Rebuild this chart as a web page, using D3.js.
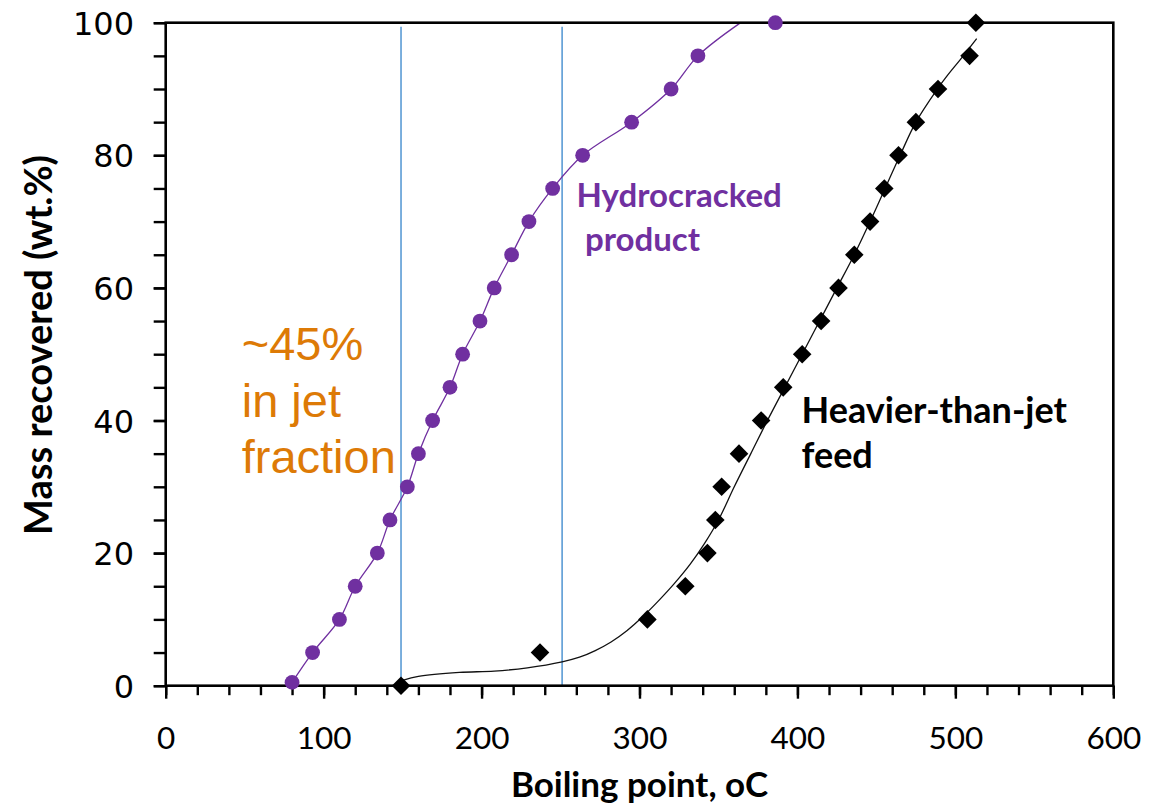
<!DOCTYPE html>
<html>
<head>
<meta charset="utf-8">
<script src="https://cdn.jsdelivr.net/npm/d3@7"></script>
<style>
  html, body { margin: 0; padding: 0; background: #ffffff; }
  svg { display: block; }
</style>
</head>
<body>
<svg id="chart" width="1151" height="812"></svg>
<script>
// Simulated-distillation curves: hydrocracked product vs. heavier-than-jet feed

// Axis ticks
const xTickValues = [0, 100, 200, 300, 400, 500, 600];
const xMinorTicks = d3.range(0, 601, 20);
const yTickValues = [0, 20, 40, 60, 80, 100];
const yMinorTicks = d3.range(0, 101, 5);

// Hydrocracked product: measured points (boiling point, °C / mass recovered, wt.%)
const productBoil = [80, 93, 110, 120, 134, 142, 153, 160, 169, 180, 188, 199, 208, 219, 230, 245, 264, 295, 320, 337, 386];
const productMass = [0.5, 5, 10, 15, 20, 25, 30, 35, 40, 45, 50, 55, 60, 65, 70, 75, 80, 85, 90, 95, 100];

// Hydrocracked product: smooth curve
const productCurveBoil = [80, 93, 110, 120, 134, 142, 153, 160, 169, 180, 188, 199, 208, 219, 230, 245, 264, 295, 320, 337, 364, 376];
const productCurveMass = [0.5, 5, 10, 15, 20, 25, 30, 35, 40, 45, 50, 55, 60, 65, 70, 75, 80, 85, 90, 95, 100, 101.8];

// Heavier-than-jet feed: measured points
const feedBoil = [149, 237, 305, 329, 343, 348, 352, 363, 377, 391, 403, 415, 426, 436, 446, 455, 464, 475, 489, 509, 513];
const feedMass = [0, 5, 10, 15, 20, 25, 30, 35, 40, 45, 50, 55, 60, 65, 70, 75, 80, 85, 90, 95, 100];

// Heavier-than-jet feed: smooth curve
const feedCurveBoil = [150, 160, 186, 208, 229, 251, 262, 272, 282, 292, 302, 312, 322, 332, 341, 350, 360, 370.5, 381, 392, 403, 414, 425, 436, 446, 455.5, 465, 475, 488.6, 494.5, 503, 508, 513.5];
const feedCurveMass = [0.8, 1.4, 2.0, 2.2, 2.7, 3.6, 4.3, 5.3, 6.6, 8.3, 10.4, 12.8, 15.4, 18.3, 21.4, 25, 30, 35, 40, 45, 50, 55, 60, 65, 70, 75, 80, 85, 90, 91.9, 94.4, 95.9, 97.6];

// Jet-fraction cut points (°C)
const jetCuts = [149, 251];

const svg = d3.select("#chart");
const plot = { left: 165.7, right: 1113.3, top: 22.7, bottom: 685.7 };

const x = d3.scaleLinear().domain([0, 600]).range([plot.left, plot.right]);
const y = d3.scaleLinear().domain([0, 100]).range([plot.bottom, plot.top]);

const purple = "#7030A0";
const orange = "#DD7A06";
const blue = "#5B9BD5";

svg.append("rect").attr("width", 1151).attr("height", 812).attr("fill", "#ffffff");

svg.append("defs").append("clipPath").attr("id", "plot-clip")
  .append("rect")
  .attr("x", plot.left).attr("y", plot.top)
  .attr("width", plot.right - plot.left).attr("height", plot.bottom - plot.top);

// Jet fraction boundaries
svg.append("g").selectAll("line").data(jetCuts).join("line")
  .attr("x1", d => x(d)).attr("x2", d => x(d))
  .attr("y1", y(100) + 4).attr("y2", y(0))
  .attr("stroke", blue).attr("stroke-width", 1.6);

// Smooth curves
const line = d3.line().x(d => x(d[0])).y(d => y(d[1])).curve(d3.curveCatmullRom.alpha(0.5));
const productCurve = d3.zip(productCurveBoil, productCurveMass);
const feedCurve = d3.zip(feedCurveBoil, feedCurveMass);

const curves = svg.append("g").attr("clip-path", "url(#plot-clip)");
curves.append("path").datum(productCurve)
  .attr("d", line).attr("fill", "none").attr("stroke", purple).attr("stroke-width", 1.3);
curves.append("path").datum(feedCurve)
  .attr("d", line).attr("fill", "none").attr("stroke", "#111111").attr("stroke-width", 1.3);

// Axes: minor and major ticks
const tickStroke = 2.4;
const xMinorAxis = d3.axisBottom(x).tickValues(xMinorTicks).tickSize(9.5).tickFormat("").tickSizeOuter(0);
const xMajorAxis = d3.axisBottom(x).tickValues(xTickValues).tickSize(13).tickSizeOuter(0).tickFormat(d3.format("d"));
const yMinorAxis = d3.axisLeft(y).tickValues(yMinorTicks).tickSize(12).tickFormat("").tickSizeOuter(0);
const yMajorAxis = d3.axisLeft(y).tickValues(yTickValues).tickSize(12).tickSizeOuter(0).tickFormat(d3.format("d"));

function styleAxis(g) {
  g.select(".domain").remove();
  g.selectAll(".tick line").attr("stroke", "#000").attr("stroke-width", tickStroke);
}

svg.append("g").attr("transform", `translate(0,${plot.bottom})`).call(xMinorAxis).call(styleAxis);
const gx = svg.append("g").attr("transform", `translate(0,${plot.bottom})`).call(xMajorAxis).call(styleAxis);
gx.selectAll(".tick text")
  .attr("y", 749 - plot.bottom).attr("dy", null)
  .attr("fill", "#000")
  .style("font-family", "Lato, 'Open Sans', sans-serif")
  .style("font-size", "31.5px");

svg.append("g").attr("transform", `translate(${plot.left},0)`).call(yMinorAxis).call(styleAxis);
const gy = svg.append("g").attr("transform", `translate(${plot.left},0)`).call(yMajorAxis).call(styleAxis);
gy.selectAll(".tick text")
  .attr("x", 134 - plot.left).attr("dy", "0.36em")
  .attr("fill", "#000")
  .style("font-family", "'DejaVu Sans', Verdana, sans-serif")
  .style("font-size", "32px");

// Plot frame
svg.append("rect")
  .attr("x", plot.left).attr("y", plot.top)
  .attr("width", plot.right - plot.left).attr("height", plot.bottom - plot.top)
  .attr("fill", "none").attr("stroke", "#000").attr("stroke-width", 2.6);

// Markers
svg.append("g").selectAll("circle").data(d3.zip(productBoil, productMass)).join("circle")
  .attr("cx", d => x(d[0])).attr("cy", d => y(d[1])).attr("r", 7.4)
  .attr("fill", purple);

const diamond = {
  draw(ctx, size) {
    const r = Math.sqrt(size) / 2;
    ctx.moveTo(0, -r); ctx.lineTo(r, 0); ctx.lineTo(0, r); ctx.lineTo(-r, 0); ctx.closePath();
  }
};
svg.append("g").selectAll("path").data(d3.zip(feedBoil, feedMass)).join("path")
  .attr("transform", d => `translate(${x(d[0])},${y(d[1])})`)
  .attr("d", d3.symbol(diamond, 18.6 * 18.6))
  .attr("fill", "#000");

// Axis titles
svg.append("text")
  .attr("x", (plot.left + plot.right) / 2).attr("y", 797)
  .attr("text-anchor", "middle")
  .style("font-family", "Lato, 'Open Sans', sans-serif")
  .style("font-weight", "700").style("font-size", "35px")
  .attr("fill", "#000")
  .text("Boiling point, oC");

svg.append("text")
  .attr("transform", "translate(52,345) rotate(-90)")
  .attr("text-anchor", "middle")
  .style("font-family", "Lato, 'Open Sans', sans-serif")
  .style("font-weight", "700").style("font-size", "38px")
  .attr("fill", "#000")
  .text("Mass recovered (wt.%)");

// Annotations
const jetNote = svg.append("text")
  .style("font-family", "'Liberation Sans', Arial, sans-serif")
  .style("font-size", "47px")
  .attr("fill", orange);
[["~45%", 360], ["in jet", 416.7], ["fraction", 473.3]].forEach(([t, by]) => {
  jetNote.append("tspan").attr("x", 241.7).attr("y", by).text(t);
});

const productNote = svg.append("text")
  .style("font-family", "Lato, 'Open Sans', sans-serif")
  .style("font-weight", "700").style("font-size", "33px")
  .attr("fill", purple);
productNote.append("tspan").attr("x", 576.5).attr("y", 206.7).text("Hydrocracked");
productNote.append("tspan").attr("x", 585).attr("y", 251).text("product");

const feedNote = svg.append("text")
  .style("font-family", "Lato, 'Open Sans', sans-serif")
  .style("font-weight", "700").style("font-size", "36px")
  .attr("fill", "#000");
feedNote.append("tspan").attr("x", 801.5).attr("y", 423.3).text("Heavier-than-jet");
feedNote.append("tspan").attr("x", 801.5).attr("y", 468.3).text("feed");
</script>
</body>
</html>
